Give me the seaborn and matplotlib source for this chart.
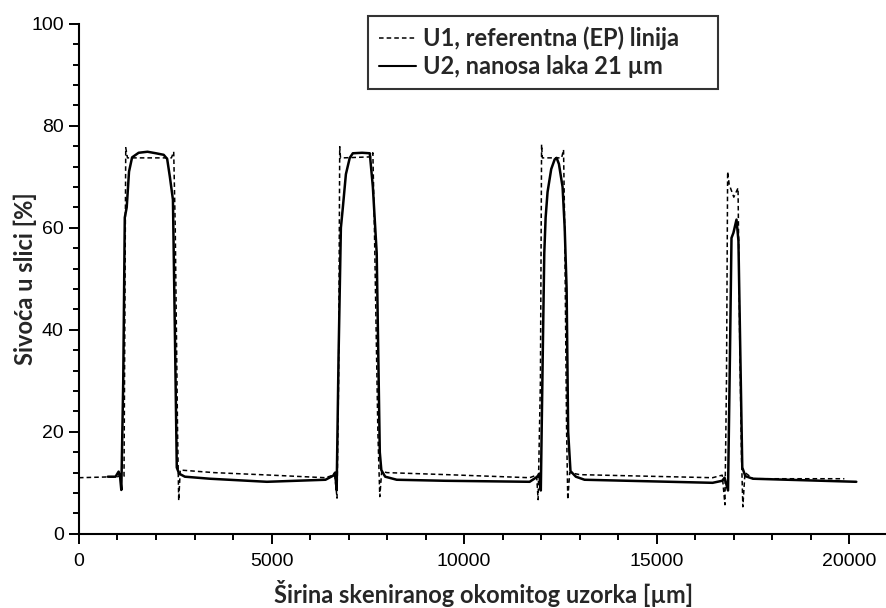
import seaborn as sns
import matplotlib.pyplot as plt
import pandas as pd
from matplotlib.ticker import MultipleLocator
from matplotlib.lines import Line2D

# U1 - reference (EP) line, dashed
u1_x = [0, 1000, 1120, 1170, 1190, 1215, 1260, 2400, 2460, 2500, 2560, 2590, 2630,
        3500, 5000, 6400, 6640, 6700, 6740, 6770, 6790, 6850, 7590, 7630, 7670, 7760,
        7810, 7860, 7990, 9550, 11700, 11880, 11920, 11980, 12010, 12030, 12080, 12530,
        12580, 12610, 12660, 12690, 12740, 13000, 16450, 16700, 16770, 16810, 16840,
        16880, 17000, 17110, 17150, 17200, 17235, 17290, 17500, 19870]
u1_y = [11.0, 11.2, 11.6, 11.3, 40, 75.7, 73.7, 73.7, 74.9, 60, 20, 6.5, 12.5,
        12.0, 11.5, 11.0, 11.6, 7.0, 30, 75.9, 73.7, 73.7, 73.9, 74.7, 60, 20,
        7.3, 12.3, 12.0, 11.6, 11.0, 11.5, 6.7, 30, 76.3, 73.7, 73.7, 73.7,
        75.3, 60, 20, 6.7, 12.0, 11.6, 11.0, 11.5, 5.7, 30, 71.0,
        68.5, 66.0, 67.8, 40, 15, 5.3, 12.0, 10.8, 10.8]

# U2 - lacquer coating 21 um, solid
u2_x = [750, 950, 1030, 1070, 1100, 1150, 1190, 1240, 1300, 1380, 1550, 1780, 2000,
        2200, 2290, 2360, 2440, 2490, 2540, 2600, 2750, 3400, 4880, 6400, 6600, 6650,
        6690, 6740, 6800, 6850, 6930, 7030, 7110, 7350, 7550, 7630, 7730, 7810, 7850,
        7950, 8250, 9500, 11700, 11900, 11950, 11990, 12040, 12080, 12115, 12165, 12260,
        12350, 12400, 12460, 12555, 12610, 12660, 12700, 12760, 12900, 13125, 16450, 16700,
        16760, 16850, 16900, 16940, 16990, 17070, 17120, 17170, 17220, 17300, 17500, 20180]
u2_y = [11.2, 11.2, 12.2, 11.0, 8.6, 30, 62.0, 64.0, 71.0, 73.8, 74.7, 74.9, 74.6,
        74.3, 73.5, 70.0, 65.5, 40, 13.0, 11.8, 11.2, 10.8, 10.2, 10.6, 11.4, 12.0,
        8.6, 35, 60, 63.9, 70.5, 73.7, 74.6, 74.7, 74.6, 68.0, 55, 16, 12.5,
        11.2, 10.6, 10.4, 10.2, 11.2, 11.8, 8.5, 35, 55, 62.0, 67.0, 71.5,
        73.4, 73.7, 72.5, 68.0, 60, 48, 20, 12.3, 11.2, 10.6, 10.0, 10.4,
        11.0, 8.5, 35, 58.0, 59.0, 61.6, 57.5, 35, 13, 11.3, 10.8, 10.2]

legend_labels = ['U1, referentna (EP) linija', 'U2, nanosa laka 21 µm']
x_label = 'Širina skeniranog okomitog uzorka [µm]'
y_label = 'Sivoća u slici [%]'

sns.set_style('ticks')
plt.rcParams['font.family'] = ['Liberation Sans', 'DejaVu Sans']

fig = plt.figure(figsize=(8.87, 6.08), dpi=100)
ax = fig.add_axes([0.089, 0.122, 0.912, 0.839])

df1 = pd.DataFrame({'x': u1_x, 'y': u1_y})
df2 = pd.DataFrame({'x': u2_x, 'y': u2_y})
sns.lineplot(data=df1, x='x', y='y', ax=ax, color='black', lw=1.1,
             linestyle=(0, (3, 2)), sort=False, estimator=None)
sns.lineplot(data=df2, x='x', y='y', ax=ax, color='black', lw=1.8,
             sort=False, estimator=None)

ax.set_xlim(0, 21000)
ax.set_ylim(0, 100)
ax.xaxis.set_major_locator(MultipleLocator(5000))
ax.xaxis.set_minor_locator(MultipleLocator(1000))
ax.yaxis.set_major_locator(MultipleLocator(20))
ax.yaxis.set_minor_locator(MultipleLocator(4))
sns.despine(ax=ax)
for s in ['left', 'bottom']:
    ax.spines[s].set_linewidth(1.5)
    ax.spines[s].set_color('black')
ax.tick_params(which='major', direction='out', length=7, width=1.4, color='black',
               labelsize=14, labelcolor='black')
ax.tick_params(axis='x', which='major', pad=7)
ax.tick_params(axis='y', which='major', pad=4)
ax.tick_params(which='minor', direction='out', length=4, width=1.4, color='black')

lab_font = dict(family=['Lato', 'DejaVu Sans'], weight='bold', size=17)
ax.set_xlabel(x_label, fontdict=lab_font, labelpad=7)
ax.set_ylabel(y_label, fontdict=lab_font, labelpad=-4)

# legend box spans a fixed region, like the reference (extra room on the right)
handles = [Line2D([], [], color='black', lw=1.1, linestyle=(0, (3, 2))),
           Line2D([], [], color='black', lw=1.5)]
leg = ax.legend(handles, legend_labels, loc='upper left', mode='expand',
                bbox_to_anchor=(368 / 887, 1 - 86 / 608, 350 / 887, 70 / 608),
                bbox_transform=fig.transFigure,
                frameon=True, fancybox=False, edgecolor='black', handlelength=1.6,
                handletextpad=0.3, borderpad=0.45, borderaxespad=0, labelspacing=0.2,
                prop=dict(family=['Lato', 'DejaVu Sans'], weight='bold', size=17))
leg.get_frame().set_linewidth(1.5)

fig.savefig('out.png', dpi=100)
